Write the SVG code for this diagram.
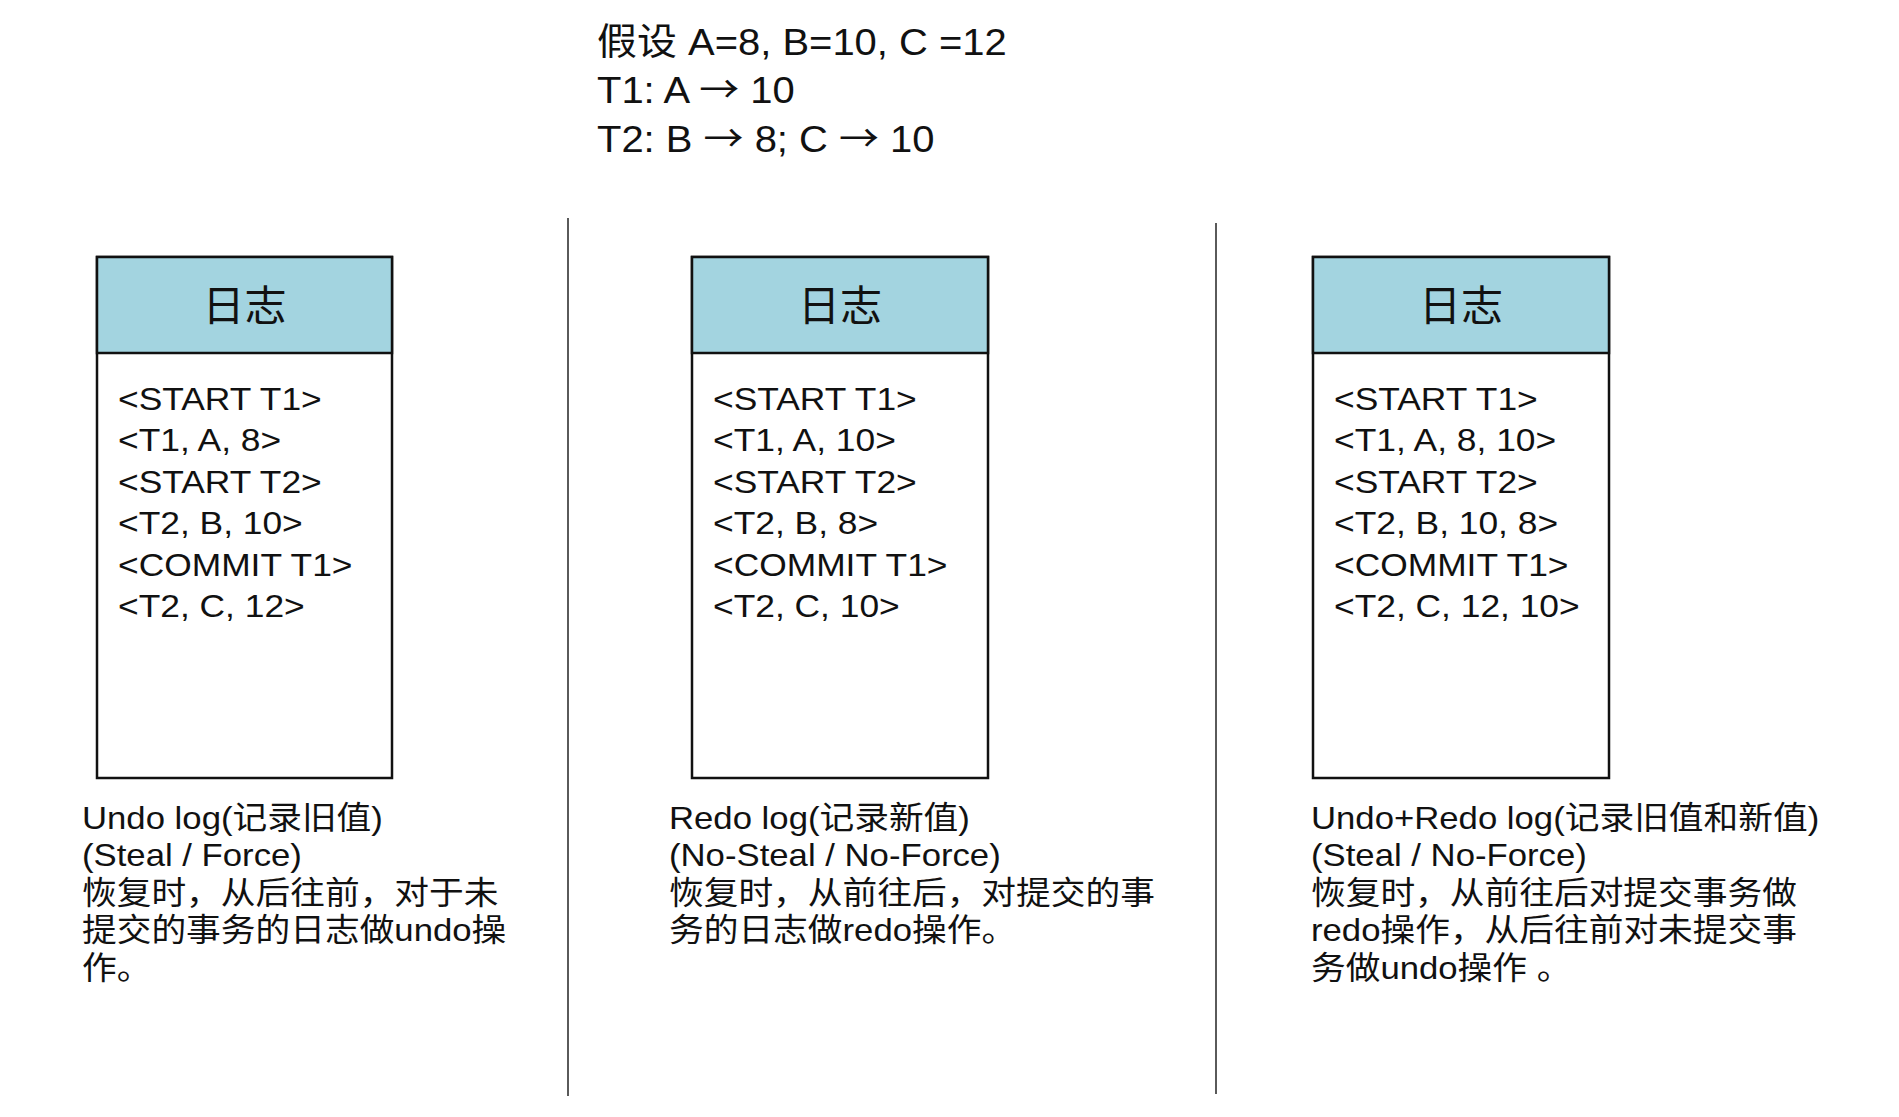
<svg xmlns="http://www.w3.org/2000/svg" width="1899" height="1117" viewBox="0 0 1899 1117">
<style>
text{font-family:"Liberation Sans","Noto Sans CJK SC",sans-serif;fill:#111;}
.title{font-size:37px;}
.arr{font-family:"Noto Sans CJK SC","DejaVu Sans",sans-serif;}
.hdr{font-size:42px;text-anchor:middle;}
.ent{font-size:32px;}
.desc{font-size:32px;}
.box{fill:#fff;stroke:#111;stroke-width:2.5;}
.head{fill:#a3d4e0;stroke:#111;stroke-width:2.5;}
.sep{stroke:#5a5a5a;stroke-width:2;fill:none;}
</style>
<rect width="1899" height="1117" fill="#fff"/>
<g id="title" transform="translate(597,55) scale(1.08,1)">
<text class="title"><tspan x="0" y="0">假设 A=8, B=10, C =12</tspan><tspan x="0" y="48.5">T1: A <tspan class="arr">→</tspan> 10</tspan><tspan x="0" y="97">T2: B <tspan class="arr">→</tspan> 8; C <tspan class="arr">→</tspan> 10</tspan></text>
</g>
<g id="separators">
<line class="sep" x1="568" y1="218" x2="568" y2="1096"/>
<line class="sep" x1="1216" y1="223" x2="1216" y2="1094"/>
</g>
<g id="undo-log">
<rect class="box" x="97" y="257" width="295" height="521"/>
<rect class="head" x="97" y="257" width="295" height="96"/>
<text class="hdr" x="244.5" y="321">日志</text>
<g transform="translate(118,410) scale(1.105,1)">
<text class="ent"><tspan x="0" y="0">&lt;START T1&gt;</tspan><tspan x="0" y="41.5">&lt;T1, A, 8&gt;</tspan><tspan x="0" y="83">&lt;START T2&gt;</tspan><tspan x="0" y="124.5">&lt;T2, B, 10&gt;</tspan><tspan x="0" y="166">&lt;COMMIT T1&gt;</tspan><tspan x="0" y="207.5">&lt;T2, C, 12&gt;</tspan></text>
</g>
<g transform="translate(82,829) scale(1.085,1)">
<text class="desc"><tspan x="0" y="0">Undo log(记录旧值)</tspan><tspan x="0" y="37.5">(Steal / Force)</tspan><tspan x="0" y="75">恢复时，从后往前，对于未</tspan><tspan x="0" y="112.5">提交的事务的日志做undo操</tspan><tspan x="0" y="150">作。</tspan></text>
</g>
</g>
<g id="redo-log">
<rect class="box" x="692" y="257" width="296" height="521"/>
<rect class="head" x="692" y="257" width="296" height="96"/>
<text class="hdr" x="840" y="321">日志</text>
<g transform="translate(713,410) scale(1.105,1)">
<text class="ent"><tspan x="0" y="0">&lt;START T1&gt;</tspan><tspan x="0" y="41.5">&lt;T1, A, 10&gt;</tspan><tspan x="0" y="83">&lt;START T2&gt;</tspan><tspan x="0" y="124.5">&lt;T2, B, 8&gt;</tspan><tspan x="0" y="166">&lt;COMMIT T1&gt;</tspan><tspan x="0" y="207.5">&lt;T2, C, 10&gt;</tspan></text>
</g>
<g transform="translate(669,829) scale(1.085,1)">
<text class="desc"><tspan x="0" y="0">Redo log(记录新值)</tspan><tspan x="0" y="37.5">(No-Steal / No-Force)</tspan><tspan x="0" y="75">恢复时，从前往后，对提交的事</tspan><tspan x="0" y="112.5">务的日志做redo操作。</tspan></text>
</g>
</g>
<g id="undo-redo-log">
<rect class="box" x="1313" y="257" width="296" height="521"/>
<rect class="head" x="1313" y="257" width="296" height="96"/>
<text class="hdr" x="1461" y="321">日志</text>
<g transform="translate(1334,410) scale(1.105,1)">
<text class="ent"><tspan x="0" y="0">&lt;START T1&gt;</tspan><tspan x="0" y="41.5">&lt;T1, A, 8, 10&gt;</tspan><tspan x="0" y="83">&lt;START T2&gt;</tspan><tspan x="0" y="124.5">&lt;T2, B, 10, 8&gt;</tspan><tspan x="0" y="166">&lt;COMMIT T1&gt;</tspan><tspan x="0" y="207.5">&lt;T2, C, 12, 10&gt;</tspan></text>
</g>
<g transform="translate(1311,829) scale(1.085,1)">
<text class="desc"><tspan x="0" y="0">Undo+Redo log(记录旧值和新值)</tspan><tspan x="0" y="37.5">(Steal / No-Force)</tspan><tspan x="0" y="75">恢复时，从前往后对提交事务做</tspan><tspan x="0" y="112.5">redo操作，从后往前对未提交事</tspan><tspan x="0" y="150">务做undo操作 。</tspan></text>
</g>
</g>
</svg>
